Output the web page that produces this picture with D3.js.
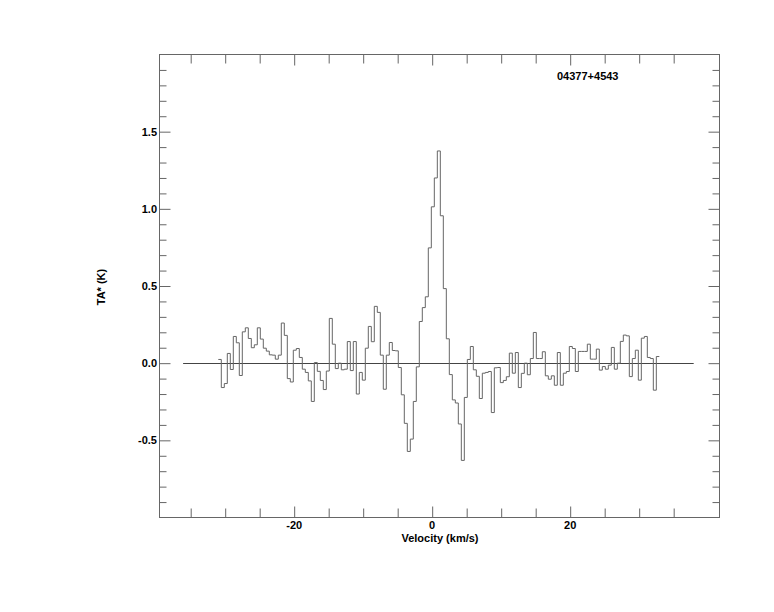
<!DOCTYPE html>
<html>
<head>
<meta charset="utf-8">
<script src="https://cdn.jsdelivr.net/npm/d3@7/dist/d3.min.js"></script>
<style>
  html, body { margin: 0; padding: 0; background: #fff; }
  svg { display: block; }
  text { font-family: "Liberation Sans", Arial, Helvetica, sans-serif; font-weight: bold; font-size: 11px; fill: #000; }
</style>
</head>
<body>
<svg id="chart" width="774" height="612"></svg>
<script>
// ---- data ----
const sourceName = "04377+4543";
const xTitle = "Velocity (km/s)";
const yTitle = "TA* (K)";
// spectrometer channel grid (first channel centre, channel width in km/s)
const firstChannelVel = -30.78;
const channelWidth = 0.4348;
// antenna temperature per channel (K)
const tempK = [
  0.024, -0.158, -0.132, 0.063, -0.041, 0.173, 0.132, -0.080, 0.203, 0.229,
  0.160, 0.100, 0.119, 0.229, 0.156, 0.097, 0.078, 0.054, 0.052, 0.026,
  0.052, 0.260, 0.180, -0.100, -0.122, 0.084, 0.095, 0.037, -0.039, -0.060,
  -0.115, -0.248, 0.004, -0.053, -0.112, -0.171, -0.051, 0.290, 0.123, -0.035,
  0.000, -0.043, -0.039, 0.140, -0.048, 0.140, -0.200, -0.060, -0.110, 0.097,
  0.238, 0.139, 0.368, 0.329, 0.052, -0.169, 0.052, 0.134, 0.082, 0.080,
  -0.028, -0.205, -0.390, -0.572, -0.492, -0.248, -0.024, 0.270, 0.360, 0.430,
  0.747, 1.013, 1.200, 1.375, 0.955, 0.483, 0.158, -0.074, -0.238, -0.258,
  -0.394, -0.630, -0.222, 0.024, 0.108, -0.043, -0.085, -0.229, -0.065, -0.060,
  -0.054, -0.320, -0.030, -0.028, -0.126, -0.112, -0.088, 0.065, -0.065, 0.069,
  -0.158, -0.066, 0.000, -0.075, 0.030, 0.199, 0.030, 0.030, 0.074, -0.082,
  -0.104, -0.082, -0.143, 0.069, -0.143, -0.065, -0.054, 0.108, 0.095, -0.054,
  0.076, 0.076, 0.076, 0.123, 0.026, 0.026, 0.091, -0.045, -0.022, -0.039,
  -0.013, 0.102, -0.039, 0.000, 0.141, 0.182, 0.177, -0.087, 0.030, 0.084,
  -0.110, 0.162, 0.173, 0.037, 0.030, -0.175, 0.043
];
const xDomain = [-39.52, 41.64];
const yDomain = [-1.0, 2.0];
const xMajorTicks = [-20, 0, 20];
const xMajorLabels = ["-20", "0", "20"];
const xMinorTicks = [-35, -30, -25, -15, -10, -5, 5, 10, 15, 25, 30, 35];
const yMajorTicks = [-0.5, 0.0, 0.5, 1.0, 1.5];
const yMajorLabels = ["-0.5", "0.0", "0.5", "1.0", "1.5"];
const yMinorTicks = [-0.9,-0.8,-0.7,-0.6,-0.4,-0.3,-0.2,-0.1,0.1,0.2,0.3,0.4,0.6,0.7,0.8,0.9,1.1,1.2,1.3,1.4,1.6,1.7,1.8,1.9];
const baselineRange = [-36.1, 37.9];

// ---- layout ----
const L = 159.5, R = 719.5, T = 54.5, B = 517.5;
const lineColor = "#666";
const svg = d3.select("#chart");
const x = d3.scaleLinear().domain(xDomain).range([L, R]);
const y = d3.scaleLinear().domain(yDomain).range([B, T]);

// ticks on all four sides
function xTicks(vals, len) {
  svg.append("g").attr("transform", `translate(0,${B})`)
    .call(d3.axisTop(x).tickValues(vals).tickSize(len).tickFormat(""))
    .call(g => { g.select(".domain").remove(); g.selectAll("line").attr("stroke", lineColor); });
  svg.append("g").attr("transform", `translate(0,${T})`)
    .call(d3.axisBottom(x).tickValues(vals).tickSize(len).tickFormat(""))
    .call(g => { g.select(".domain").remove(); g.selectAll("line").attr("stroke", lineColor); });
}
function yTicks(vals, len) {
  svg.append("g").attr("transform", `translate(${L},0)`)
    .call(d3.axisRight(y).tickValues(vals).tickSize(len).tickFormat(""))
    .call(g => { g.select(".domain").remove(); g.selectAll("line").attr("stroke", lineColor); });
  svg.append("g").attr("transform", `translate(${R},0)`)
    .call(d3.axisLeft(y).tickValues(vals).tickSize(len).tickFormat(""))
    .call(g => { g.select(".domain").remove(); g.selectAll("line").attr("stroke", lineColor); });
}
xTicks(xMinorTicks, 9);
xTicks(xMajorTicks, 11);
yTicks(yMinorTicks, 7);
yTicks(yMajorTicks, 11);

// frame
svg.append("rect").attr("x", L).attr("y", T).attr("width", R - L).attr("height", B - T)
  .attr("fill", "none").attr("stroke", lineColor).attr("stroke-width", 1);

// tick labels
svg.append("g").selectAll("text").data(xMajorTicks).join("text")
  .attr("x", d => x(d)).attr("y", 529).attr("text-anchor", "middle")
  .text((d, i) => xMajorLabels[i]);
svg.append("g").selectAll("text").data(yMajorTicks).join("text")
  .attr("x", 157).attr("y", d => y(d) + 4).attr("text-anchor", "end")
  .text((d, i) => yMajorLabels[i]);

// axis titles
svg.append("text").attr("x", 440).attr("y", 542).attr("text-anchor", "middle").text(xTitle);
svg.append("text").attr("transform", `translate(105,287) rotate(-90)`).attr("text-anchor", "middle").text(yTitle);
svg.append("text").attr("x", 557).attr("y", 80).text(sourceName);

// zero baseline
svg.append("line")
  .attr("x1", x(baselineRange[0])).attr("x2", x(baselineRange[1]))
  .attr("y1", Math.round(y(0)) + 0.5).attr("y2", Math.round(y(0)) + 0.5)
  .attr("stroke", "#444").attr("stroke-width", 1);

// histogram spectrum
const pts = [];
tempK.forEach((t, i) => {
  const v = firstChannelVel + i * channelWidth;
  pts.push([v - channelWidth / 2, t]);
  pts.push([v + channelWidth / 2, t]);
});
const line = d3.line().x(d => x(d[0])).y(d => y(d[1]));
svg.append("path").attr("d", line(pts))
  .attr("fill", "none").attr("stroke", "#666").attr("stroke-width", 1);
</script>
</body>
</html>
